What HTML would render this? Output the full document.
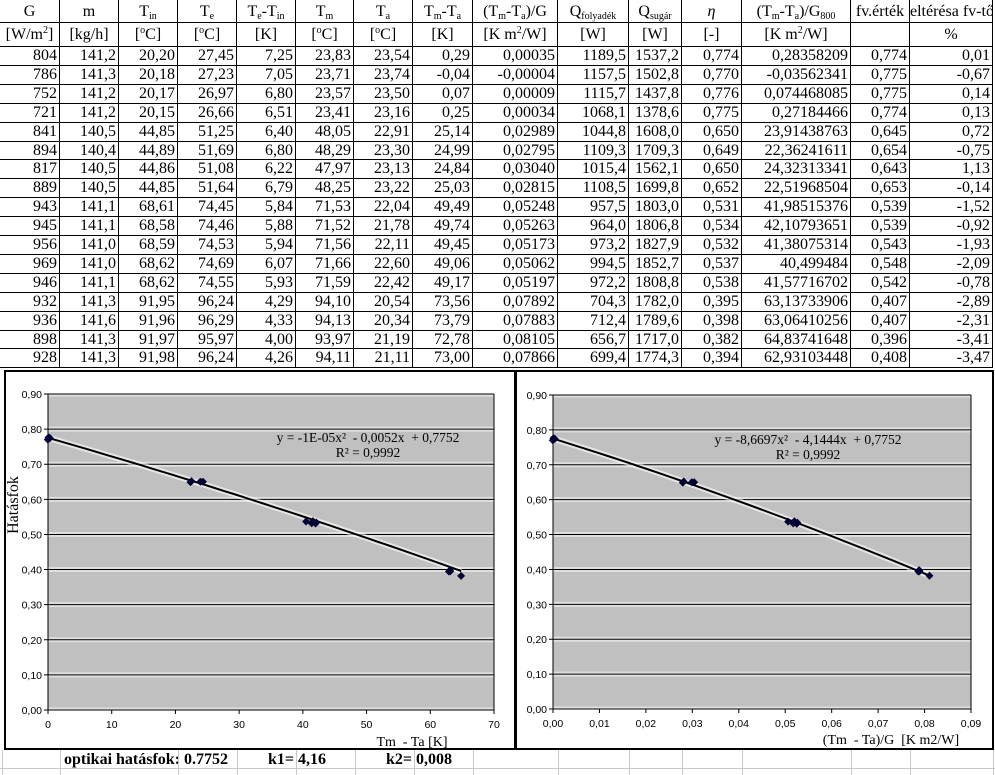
<!DOCTYPE html>
<html><head><meta charset="utf-8"><style>
body{margin:0;width:995px;height:775px;background:#fff;overflow:hidden;position:relative;font-family:"Liberation Serif",serif;}
.c{position:absolute;box-sizing:border-box;border-right:1px solid #000;border-bottom:1px solid #000;font-size:16px;line-height:18px;white-space:nowrap;overflow:hidden;}
.h{text-align:center;}
.d{text-align:right;padding-right:2px;}
sub{font-size:10px;vertical-align:-3px;line-height:0}
sup{font-size:10px;vertical-align:6px;line-height:0}
.g{position:absolute;background:#c8c8c8;}
.b{position:absolute;font-weight:bold;font-size:16px;}
text{white-space:pre}
</style></head><body>
<div id="tbl"></div>
<svg id="charts" width="995" height="775" style="position:absolute;left:0;top:0"></svg>
<div class="g" style="left:0;top:768px;width:995px;height:1px"></div>
<div class="b" style="left:64px;top:751px">optikai hatásfok: 0.7752</div>
<div class="b" style="left:268px;top:751px">k1= 4,16</div>
<div class="b" style="left:386px;top:751px">k2= 0,008</div>
<script>
const colW=[60,59,59,59,59,58,59,60,85,71,53,60,109,59,83];
const head1=['G','m','T<sub>in</sub>','T<sub>e</sub>','T<sub>e</sub>-T<sub>in</sub>','T<sub>m</sub>','T<sub>a</sub>','T<sub>m</sub>-T<sub>a</sub>','(T<sub>m</sub>-T<sub>a</sub>)/G','Q<sub>folyadék</sub>','Q<sub>sugár</sub>','<i>η</i>','(T<sub>m</sub>-T<sub>a</sub>)/G<sub>800</sub>','fv.érték','eltérésa fv-től'];
const head2=['[W/m<sup>2</sup>]','[kg/h]','[<sup>o</sup>C]','[<sup>o</sup>C]','[K]','[<sup>o</sup>C]','[<sup>o</sup>C]','[K]','[K m<sup>2</sup>/W]','[W]','[W]','[-]','[K m<sup>2</sup>/W]','','%'];
const rows=[
"804 141,2 20,20 27,45 7,25 23,83 23,54 0,29 0,00035 1189,5 1537,2 0,774 0,28358209 0,774 0,01",
"786 141,3 20,18 27,23 7,05 23,71 23,74 -0,04 -0,00004 1157,5 1502,8 0,770 -0,03562341 0,775 -0,67",
"752 141,2 20,17 26,97 6,80 23,57 23,50 0,07 0,00009 1115,7 1437,8 0,776 0,074468085 0,775 0,14",
"721 141,2 20,15 26,66 6,51 23,41 23,16 0,25 0,00034 1068,1 1378,6 0,775 0,27184466 0,774 0,13",
"841 140,5 44,85 51,25 6,40 48,05 22,91 25,14 0,02989 1044,8 1608,0 0,650 23,91438763 0,645 0,72",
"894 140,4 44,89 51,69 6,80 48,29 23,30 24,99 0,02795 1109,3 1709,3 0,649 22,36241611 0,654 -0,75",
"817 140,5 44,86 51,08 6,22 47,97 23,13 24,84 0,03040 1015,4 1562,1 0,650 24,32313341 0,643 1,13",
"889 140,5 44,85 51,64 6,79 48,25 23,22 25,03 0,02815 1108,5 1699,8 0,652 22,51968504 0,653 -0,14",
"943 141,1 68,61 74,45 5,84 71,53 22,04 49,49 0,05248 957,5 1803,0 0,531 41,98515376 0,539 -1,52",
"945 141,1 68,58 74,46 5,88 71,52 21,78 49,74 0,05263 964,0 1806,8 0,534 42,10793651 0,539 -0,92",
"956 141,0 68,59 74,53 5,94 71,56 22,11 49,45 0,05173 973,2 1827,9 0,532 41,38075314 0,543 -1,93",
"969 141,0 68,62 74,69 6,07 71,66 22,60 49,06 0,05062 994,5 1852,7 0,537 40,499484 0,548 -2,09",
"946 141,1 68,62 74,55 5,93 71,59 22,42 49,17 0,05197 972,2 1808,8 0,538 41,57716702 0,542 -0,78",
"932 141,3 91,95 96,24 4,29 94,10 20,54 73,56 0,07892 704,3 1782,0 0,395 63,13733906 0,407 -2,89",
"936 141,6 91,96 96,29 4,33 94,13 20,34 73,79 0,07883 712,4 1789,6 0,398 63,06410256 0,407 -2,31",
"898 141,3 91,97 95,97 4,00 93,97 21,19 72,78 0,08105 656,7 1717,0 0,382 64,83741648 0,396 -3,41",
"928 141,3 91,98 96,24 4,26 94,11 21,11 73,00 0,07866 699,4 1774,3 0,394 62,93103448 0,408 -3,47"];
const tbl=document.getElementById('tbl');
const xs=[0];colW.forEach(w=>xs.push(xs[xs.length-1]+w));
function cell(x,y,w,h,html,cls,name){
 const d=document.createElement('div');
 d.className='c '+cls;
 d.style.cssText=`left:${x}px;top:${y}px;width:${w}px;height:${h}px;`+(cls==='h'?`line-height:${h}px;`:'');
 d.innerHTML=html;
 
 
 tbl.appendChild(d);
}
colW.forEach((w,i)=>{cell(xs[i],0,w,23,head1[i],'h','header-cell');cell(xs[i],23,w,24,head2[i],'h','unit-cell');});
const RH=18.9;
rows.forEach((r,ri)=>{const v=r.split(' ');const y=Math.round(47+ri*RH);const h=Math.round(47+(ri+1)*RH)-y;
 v.forEach((t,i)=>cell(xs[i],y,colW[i],h,t,'d','data-cell'));});
[2,60,178,237,296,355,414,473,558,629,682,742,851,910,993].forEach(x=>{
 const g=document.createElement('div');g.className='g';g.style.cssText=`left:${x}px;top:750px;width:1px;height:25px`;
 
 
 document.body.appendChild(g);});

const etaVals=[0.774,0.770,0.776,0.775,0.650,0.649,0.650,0.652,0.531,0.534,0.532,0.537,0.538,0.395,0.398,0.382,0.394];
const xG800=[0.28358209,-0.03562341,0.074468085,0.27184466,23.91438763,22.36241611,24.32313341,22.51968504,41.98515376,42.10793651,41.38075314,40.499484,41.57716702,63.13733906,63.06410256,64.83741648,62.93103448];
const xTmTaG=[0.00035,-0.00004,0.00009,0.00034,0.02989,0.02795,0.03040,0.02815,0.05248,0.05263,0.05173,0.05062,0.05197,0.07892,0.07883,0.08105,0.07866];
const fit1=[-0.00001,-0.0052,0.7752];
const fit2=[-8.6697,-4.1444,0.7752];
const yTicks=['0,00','0,10','0,20','0,30','0,40','0,50','0,60','0,70','0,80','0,90'];
const xTicks1=['0','10','20','30','40','50','60','70'];
const xTicks2=['0,00','0,01','0,02','0,03','0,04','0,05','0,06','0,07','0,08','0,09'];

const svg=document.getElementById('charts');const NS='http://www.w3.org/2000/svg';
function el(tag,attrs,name,parent){const e=document.createElementNS(NS,tag);for(const k in attrs)e.setAttribute(k,attrs[k]);
 
 
 (parent||svg).appendChild(e);return e;}
function txt(x,y,s,attrs,name){const t=el('text',Object.assign({x:x,y:y,'xml:space':'preserve'},attrs),name);t.textContent=s;return t;}

function chart(o){
 el('rect',{x:o.fx,y:371,width:o.fw,height:378,fill:'#fff',stroke:'#000','stroke-width':2},o.name+'-frame');
 const L=o.L,R=o.R,T=o.T,B=o.B;
 const sx=v=>L+(v-o.xmin)/(o.xmax-o.xmin)*(R-L);
 const sy=v=>B-v/0.9*(B-T);
 el('rect',{x:L,y:T,width:R-L,height:B-T,fill:'#c0c0c0'},o.name+'-plot-area');
 yTicks.forEach((t,i)=>{const v=parseFloat(t.replace(',','.'));const y=sy(v);
  el('line',{x1:L,x2:R,y1:y,y2:y,stroke:'#fff','stroke-width':5,opacity:0.5},'gridline-glow');
  el('line',{x1:L-4,x2:R,y1:y,y2:y,stroke:'#000','stroke-width':1},'gridline');
  txt(L-6,y+4,t,{'font-family':'Liberation Sans, sans-serif','font-size':10.5,'text-anchor':'end'},'y-tick-label');});
 el('line',{x1:L,x2:L,y1:T,y2:B,stroke:'#000'},'y-axis');
 el('line',{x1:R,x2:R,y1:T,y2:B,stroke:'#000'},'plot-right-border');
 o.xt.forEach(t=>{const v=parseFloat(t.replace(',','.'));const x=sx(v);
  el('line',{x1:x,x2:x,y1:B,y2:B+4,stroke:'#000'},'x-tick');
  txt(x,B+18,t,{'font-family':'Liberation Sans, sans-serif','font-size':10.5,'text-anchor':'middle'},'x-tick-label');});
 const xmn=Math.min(...o.xs),xmx=Math.max(...o.xs);let d='';
 for(let i=0;i<=40;i++){const x=xmn+(xmx-xmn)*i/40;const y=o.fit[0]*x*x+o.fit[1]*x+o.fit[2];d+=(i?'L':'M')+sx(x).toFixed(1)+','+sy(y).toFixed(1);}
 el('path',{d:d,fill:'none',stroke:'#fff','stroke-width':6,opacity:0.6},'trendline-glow');
 el('path',{d:d,fill:'none',stroke:'#000','stroke-width':2},'trendline');
 o.xs.forEach((xv,i)=>{const x=sx(xv),y=sy(etaVals[i]);
  el('path',{d:`M${x-4},${y}L${x},${y-4}L${x+4},${y}L${x},${y+4}Z`,fill:'#000033'},'data-point');});
 txt(o.eqx,o.eqy,o.eq,{'font-family':'Liberation Serif, serif','font-size':13.5,'text-anchor':'middle'},'trendline-equation');
 txt(o.eqx,o.eqy+15,'R² = 0,9992',{'font-family':'Liberation Serif, serif','font-size':13.5,'text-anchor':'middle'},'r-squared');
 txt(o.xlx,o.xly,o.xl,{'font-family':'Liberation Serif, serif','font-size':14,'text-anchor':'middle'},'x-axis-title');
}
chart({name:'chart-left',fx:5,fw:510,L:48,R:494,T:394,B:710,xmin:0,xmax:70,xt:xTicks1,xs:xG800,fit:fit1,eqx:368,eqy:442,eq:'y = -1E-05x²  - 0,0052x  + 0,7752',xlx:412,xly:746,xl:'Tm  - Ta [K]'});
chart({name:'chart-right',fx:516,fw:477,L:553,R:971,T:395,B:709,xmin:0,xmax:0.09,xt:xTicks2,xs:xTmTaG,fit:fit2,eqx:808,eqy:444,eq:'y = -8,6697x²  - 4,1444x  + 0,7752',xlx:891,xly:744,xl:'(Tm  - Ta)/G  [K m2/W]'});
txt(0,0,'Hatásfok',{'font-family':'Liberation Serif, serif','font-size':16,'text-anchor':'middle',transform:'translate(18,505) rotate(-90)'},'y-axis-title');
</script>
</body></html>
